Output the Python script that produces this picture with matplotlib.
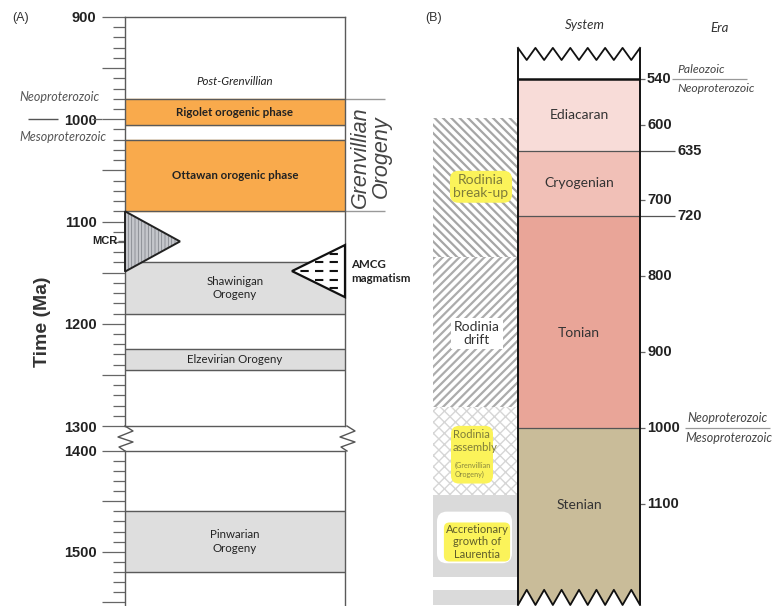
import numpy as np
import matplotlib.pyplot as plt
from matplotlib.patches import Polygon, FancyBboxPatch

plt.rcParams['font.family'] = ['Lato', 'DejaVu Sans']
plt.rcParams['hatch.linewidth'] = 1.9

# ---------------- panel A data (ages in Ma) ----------------
a_names = ['Rigolet orogenic phase', 'Ottawan orogenic phase', 'Shawinigan\nOrogeny',
           'Elzevirian Orogeny', 'Pinwarian\nOrogeny']
a_start = [980, 1020, 1140, 1225, 1460]
a_end = [1006, 1090, 1190, 1245, 1520]
a_colors = ['#f9aa4c', '#f9aa4c', '#dedede', '#dedede', '#dedede']

grenvillian = [980, 1090]
mcr = [1090, 1149]
amcg = [1123, 1174]
post_grenv_age = 963

a_top_lim = [900, 1300]
a_bot_lim = [1400, 1554]
a_major = [900, 950, 1000, 1050, 1100, 1150, 1200, 1250, 1300]
a_major_lab = ['900', '', '1000', '', '1100', '', '1200', '', '1300']
a_major2 = [1400, 1450, 1500, 1550]
a_major2_lab = ['1400', '', '1500', '']

# ---------------- panel B data ----------------
b_names = ['Ediacaran', 'Cryogenian', 'Tonian', 'Stenian']
b_start = [540, 635, 720, 1000]
b_end = [635, 720, 1000, 1213]
b_label_age = [587, 677, 875, 1101]
b_colors = ['#f8dcd8', '#f1c0b7', '#e9a598', '#c9bc99']
b_ticks = [540, 600, 700, 800, 900, 1000, 1100]
b_bounds = [635, 720]

ev_names = ['Rodinia\nbreak-up', 'Rodinia\ndrift', 'Rodinia\nassembly', 'Accretionary\ngrowth of\nLaurentia']
ev_start = [591, 775, 972, 1088]
ev_end = [775, 972, 1088, 1196]
ev_label_age = [682, 875, 1030, 1150]

fig = plt.figure(figsize=(7.8, 6.06), dpi=100)
W, H = 780, 606

# ================= panel A =================
axA = fig.add_axes([125 / W, 1 - 426 / H, 220 / W, 409 / H])
axA2 = fig.add_axes([125 / W, 0, 220 / W, 155 / H])
box = '#5a5a5a'

for ax, lim, maj, lab in [(axA, a_top_lim, a_major, a_major_lab),
                          (axA2, a_bot_lim, a_major2, a_major2_lab)]:
    ax.set_xlim(0, 220)
    ax.set_ylim(lim[1], lim[0])
    ax.set_xticks([])
    ax.set_yticks(maj, lab, fontsize=10.5, fontweight='bold', family='Liberation Sans', color='#222')
    ax.set_yticks(np.arange(lim[0], lim[1] + 1, 10), minor=True)
    ax.tick_params(axis='y', which='major', length=16.5, width=0.9, color='#666', pad=4)
    ax.tick_params(axis='y', which='minor', length=8.6, width=0.9, color='#666')
    for s in ax.spines.values():
        s.set_color(box)
        s.set_linewidth(1.0)
    ax.patch.set_alpha(0)
axA2.spines['bottom'].set_visible(False)

for nm, s0, s1, c in zip(a_names, a_start, a_end, a_colors):
    ax = axA if s1 <= a_top_lim[1] else axA2
    ax.axhspan(s0, s1, color=c, zorder=1)
    ax.axhline(s0, color=box, lw=1.0, zorder=2)
    ax.axhline(s1, color=box, lw=1.0, zorder=2)
    bold = 'phase' in nm
    ax.text(110, (s0 + s1) / 2, nm, ha='center', va='center', fontsize=8.3,
            fontweight='bold' if bold else 'normal', color='#222', linespacing=1.25, zorder=3)

axA.text(110, post_grenv_age, 'Post-Grenvillian', ha='center', va='center',
         fontsize=8.3, style='italic', color='#222')

# Grenvillian orogeny bracket
axA.hlines(grenvillian, 220, 260, color='#999', lw=1.0, clip_on=False)
axA.text(246, sum(grenvillian) / 2 + 2, 'Grenvillian\nOrogeny', rotation=90, ha='center', va='center',
         fontsize=15.5, style='italic', family='Liberation Sans', color='#444', linespacing=0.95)

# MCR triangle
mtri = [(0, mcr[0]), (55, (mcr[0] + mcr[1]) / 2), (0, mcr[1])]
with plt.rc_context({'hatch.linewidth': 0.5}):
    axA.add_patch(Polygon(mtri, closed=True, facecolor='#c4c6cb', edgecolor='#7b7e85',
                          hatch='|||||', lw=0, zorder=4, clip_on=False))
axA.add_patch(Polygon(mtri, closed=True, fill=False, edgecolor='#222', lw=1.4, zorder=5, clip_on=False))
axA.hlines((mcr[0] + mcr[1]) / 2, -7, 0, color='#666', lw=1, clip_on=False)
axA.text(-8, (mcr[0] + mcr[1]) / 2, 'MCR', ha='right', va='center', fontsize=8,
         fontweight='bold', family='Liberation Sans', color='#222')

# AMCG triangle
atri = Polygon([(220, amcg[0]), (167, (amcg[0] + amcg[1]) / 2), (220, amcg[1])], closed=True,
               facecolor='white', edgecolor='#111', lw=1.6, zorder=5, clip_on=False)
axA.add_patch(atri)
for k in range(1, 6):
    yy = amcg[0] + (amcg[1] - amcg[0]) * k / 6
    ln, = axA.plot([165, 222], [yy, yy], color='#111', lw=1.5, ls=(2, (4, 3)), zorder=6)
    ln.set_clip_path(atri)
axA.text(226, (amcg[0] + amcg[1]) / 2, 'AMCG\nmagmatism', ha='left', va='center', fontsize=8.3,
         fontweight='bold', color='#222', linespacing=1.35, clip_on=False)

# era boundary at 1000 Ma
axA.hlines(1000, -97, -67, color='#555', lw=1.0, clip_on=False)
axA.hlines(1000, -33, -23, color='#666', lw=0.9, clip_on=False)
axA.text(-25, 978, 'Neoproterozoic', ha='right', va='center', fontsize=9, style='italic',
         color='#555', clip_on=False)
axA.text(-19, 1017, 'Mesoproterozoic', ha='right', va='center', fontsize=9, style='italic',
         color='#555', clip_on=False)
axA.text(-83, 1198, 'Time (Ma)', rotation=90, ha='center', va='center', fontsize=14,
         fontweight='bold', family='Liberation Sans', color='#333', clip_on=False)

# ================= panel B =================
axB = fig.add_axes([420 / W, 0, 360 / W, 1])
axB.set_xlim(420, 780)
axB.set_ylim(540 + 527 / 0.759, 540 - 79 / 0.759)
axB.axis('off')
axB.patch.set_alpha(0)

cx0, cx1 = 518, 640
for nm, s0, s1, c, la in zip(b_names, b_start, b_end, b_colors, b_label_age):
    axB.fill_betweenx([s0, s1], cx0, cx1, color=c, lw=0, zorder=1)
    axB.text((cx0 + cx1) / 2, la, nm, ha='center', va='center', fontsize=10, color='#333')
for b in b_bounds:
    axB.hlines(b, cx0, 675, color='#555', lw=0.9, zorder=2)
    axB.text(677, b, str(b), ha='left', va='center', fontsize=10.5, fontweight='bold',
             family='Liberation Sans', color='#222')
axB.hlines(1000, cx0, cx1, color='#555', lw=0.9, zorder=2)

# zigzag top / bottom
zx = np.linspace(cx0, cx1, 15)
ztop = np.where(np.arange(15) % 2 == 0, 499, 515)
axB.plot(zx, ztop, color='#111', lw=1.3, zorder=3)
zbot = np.where(np.arange(15) % 2 == 0, 1233, 1213)
axB.fill_between(zx, b_end[-1] - 20, zbot, color=b_colors[-1], lw=0, zorder=1)
axB.plot(zx, zbot, color='#111', lw=1.3, zorder=3)
axB.vlines([cx0, cx1], 499, 1233, color='#111', lw=1.4, zorder=3)
axB.hlines(b_start[0], cx0, cx1, color='#111', lw=1.8, zorder=3)

for t in b_ticks:
    axB.hlines(t, cx1, cx1 + 5, color='#666', lw=0.9)
    axB.text(cx1 + 7, t, str(t), ha='left', va='center', fontsize=10.5, fontweight='bold',
             family='Liberation Sans', color='#222')

# era labels
axB.hlines(540, 672, 747, color='#999', lw=0.9)
axB.annotate('Paleozoic', (677, 540), xytext=(0, 3), textcoords='offset points', va='bottom',
             fontsize=8.7, style='italic', color='#444')
axB.annotate('Neoproterozoic', (677, 540), xytext=(0, -3), textcoords='offset points', va='top',
             fontsize=8.7, style='italic', color='#444')
axB.hlines(1000, 685, 770, color='#999', lw=0.9)
axB.annotate('Neoproterozoic', (727, 1000), xytext=(0, 3), textcoords='offset points', va='bottom',
             ha='center', fontsize=9, style='italic', color='#444')
axB.annotate('Mesoproterozoic', (729, 1000), xytext=(0, -3), textcoords='offset points', va='top',
             ha='center', fontsize=9, style='italic', color='#444')

# Rodinia events
ex0, ex1 = 433, cx0
hatches = ['\\\\\\\\', '////', 'xxx', None]
hcols = ['#a6a6a6', '#acacac', '#d6d6d6', None]
hlw = [1.6, 1.6, 1.0, 0]
for i, (s0, s1) in enumerate(zip(ev_start, ev_end)):
    if hatches[i]:
        with plt.rc_context({'hatch.linewidth': hlw[i]}):
            axB.fill_betweenx([s0, s1], ex0, ex1, facecolor='white', edgecolor=hcols[i],
                              hatch=hatches[i], lw=0, zorder=1)
    else:
        axB.fill_betweenx([s0, s1], ex0, ex1, color='#dadada', lw=0, zorder=1)
        axB.add_patch(FancyBboxPatch((437, s0 + 22), 75, (s1 - s0) - 40,
                                     boxstyle='round,pad=0,rounding_size=10',
                                     mutation_aspect=1 / 0.759,
                                     facecolor='white', edgecolor='none', zorder=2))
axB.fill_betweenx([1213, 1233], ex0, ex1, color='#dadada', lw=0, zorder=1)

yel = dict(boxstyle='round,pad=0.25,rounding_size=0.6', facecolor='#fbf35a', edgecolor='none')
axB.text(481, ev_label_age[0], ev_names[0], ha='center', va='center', fontsize=10,
         color='#7e7c3a', bbox=yel, zorder=5, linespacing=1.1)
axB.text(477, ev_label_age[1], ev_names[1], ha='center', va='center', fontsize=10,
         color='#333', linespacing=1.15, zorder=5,
         bbox=dict(boxstyle='square,pad=0.2', facecolor='white', edgecolor='none'))
axB.add_patch(FancyBboxPatch((451, 997), 42, 76, boxstyle='round,pad=0,rounding_size=8',
                             mutation_aspect=1 / 0.759, facecolor='#fbf35a', edgecolor='none', zorder=4))
axB.text(453, 1017, ev_names[2], ha='left', va='center', fontsize=8, color='#7e7c3a',
         zorder=5, linespacing=1.15)
axB.text(455, 1055, '(Grenvillian\nOrogeny)', ha='left', va='center', fontsize=5.2,
         color='#8a883e', zorder=6, linespacing=1.25)
axB.text(477, ev_label_age[3], ev_names[3], ha='center', va='center', fontsize=8,
         color='#5e5c2a', zorder=5, linespacing=1.15,
         bbox=dict(boxstyle='round,pad=0.15,rounding_size=0.5', facecolor='#fbf35a', edgecolor='none'))

# ================= decorations (pixel overlay) =================
ov = fig.add_axes([0, 0, 1, 1])
ov.set_xlim(0, W)
ov.set_ylim(H, 0)
ov.axis('off')
ov.patch.set_alpha(0)
zl_x = [125, 133, 118, 133, 119, 125]
zl_y = [426, 431, 437, 442, 447, 451]
ov.plot(zl_x, zl_y, color='#555', lw=1.0)
ov.plot([x + 222 for x in zl_x], zl_y, color='#555', lw=1.0)

fig.text(12 / W, 1 - 18 / H, '(A)', fontsize=9, family='Liberation Sans', color='#333', va='center')
fig.text(425 / W, 1 - 18 / H, '(B)', fontsize=9, family='Liberation Sans', color='#333', va='center')
fig.text(585 / W, 1 - 25 / H, 'System', fontsize=9.5, style='italic', color='#333', ha='center', va='center')
fig.text(720 / W, 1 - 28 / H, 'Era', fontsize=9.5, style='italic', color='#333', ha='center', va='center')

fig.savefig('out.png', dpi=100)
